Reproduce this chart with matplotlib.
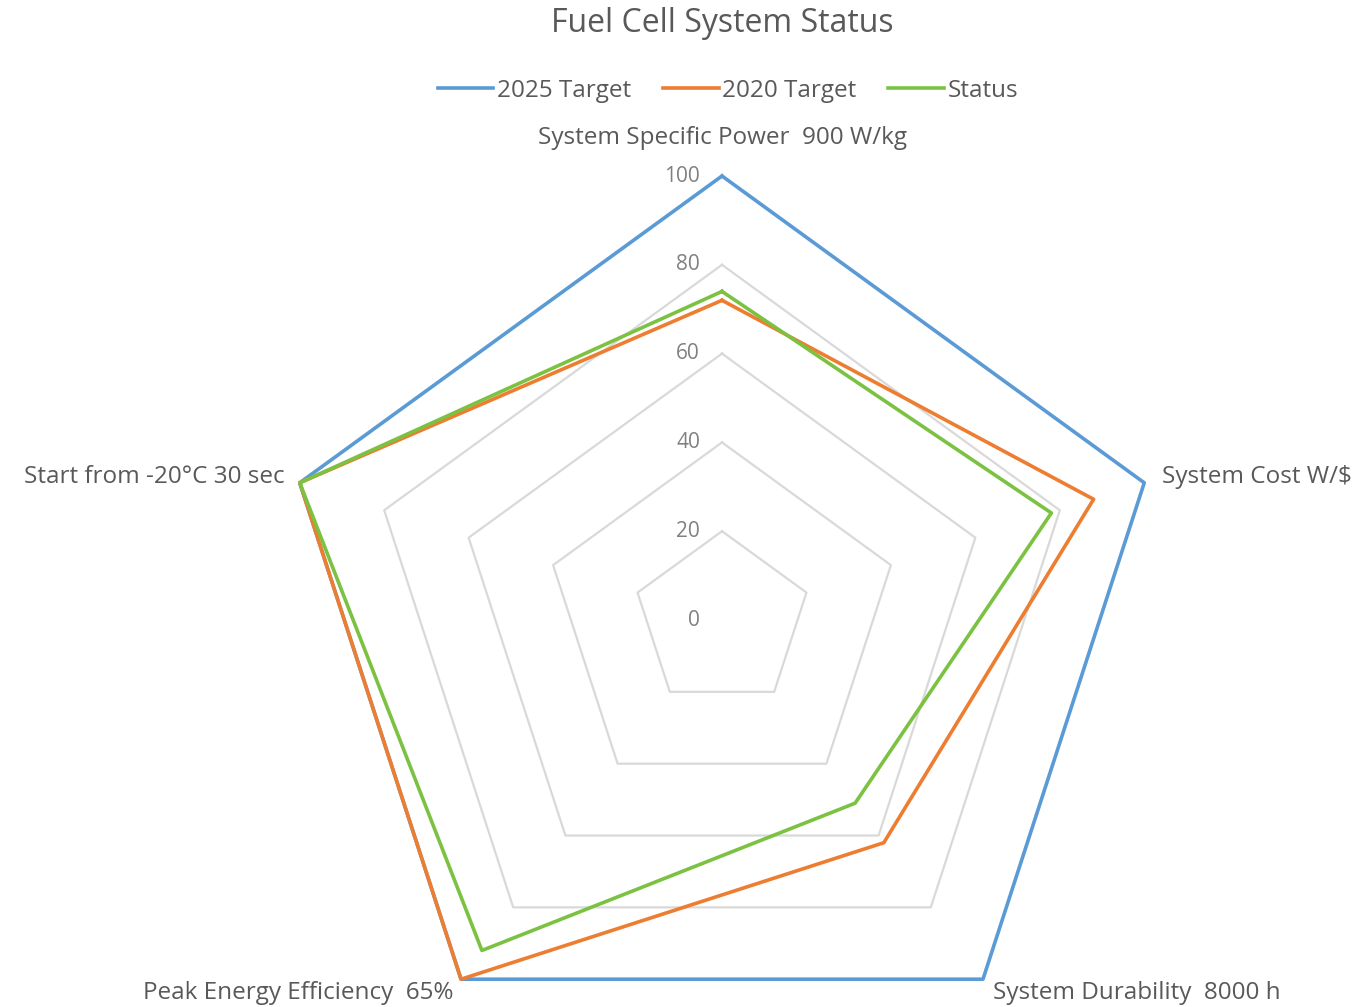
import numpy as np
import matplotlib
matplotlib.use('Agg')
from matplotlib import pyplot as plt

plt.rcParams['font.family'] = ['Open Sans', 'DejaVu Sans']

categories = ['System Specific Power  900 W/kg', 'System Cost W/$',
              'System Durability  8000 h', 'Peak Energy Efficiency  65%',
              'Start from -20\u00b0C 30 sec']
target_2025 = [100, 100, 100, 100, 100]
target_2020 = [72, 88, 62, 100, 100]
status = [74, 78, 51, 92, 100]
ring_values = [20, 40, 60, 80, 100]
tick_values = [0, 20, 40, 60, 80, 100]

series_names = ['2025 Target', '2020 Target', 'Status']
series_colors = ['#5B9BD5', '#ED7D31', '#7CC242']

fig = plt.figure(figsize=(13.66, 10.07), dpi=100)
# center at (722, 620) px, radius 444 px
ax = fig.add_axes([278/1366, (1007-620-444)/1007, 888/1366, 888/1007], projection='polar')
ax.set_theta_offset(np.pi/2)
ax.set_theta_direction(-1)
ax.set_ylim(0, 100)
ax.axis('off')

n = len(categories)
angles = np.linspace(0, 2*np.pi, n, endpoint=False)
closed = np.append(angles, angles[0])

for r in ring_values:
    ax.plot(closed, [r]*(n+1), color='#D9D9D9', lw=1.6, zorder=1, clip_on=False)

for name, vals, col in zip(series_names, [target_2025, target_2020, status], series_colors):
    ax.plot(closed, list(vals)+[vals[0]], color=col, lw=2.6, label=name, zorder=3, clip_on=False)

for t in tick_values:
    ax.annotate(str(t), xy=(0, t), xytext=(-22, 0), textcoords='offset pixels',
                ha='right', va='center', fontsize=15, color='#808080')

txt = dict(fontsize=17.5, color='#595959')
ax.annotate(categories[0], xy=(angles[0], 100), xytext=(0, 38), textcoords='offset pixels',
            ha='center', va='center', **txt)
ax.annotate(categories[1], xy=(angles[1], 100), xytext=(18, 6), textcoords='offset pixels',
            ha='left', va='center', **txt)
ax.annotate(categories[2], xy=(angles[2], 100), xytext=(10, -14), textcoords='offset pixels',
            ha='left', va='center', **txt)
ax.annotate(categories[3], xy=(angles[3], 100), xytext=(-8, -14), textcoords='offset pixels',
            ha='right', va='center', **txt)
ax.annotate(categories[4], xy=(angles[4], 100), xytext=(-15, 6), textcoords='offset pixels',
            ha='right', va='center', **txt)

fig.text(722/1366, 1 - 24/1007, 'Fuel Cell System Status', ha='center', va='center',
         fontsize=23, color='#595959')
leg = fig.legend(loc='center', bbox_to_anchor=(728/1366, 1 - 91/1007), ncol=3, frameon=False,
                 fontsize=17.5, handlelength=2.3, handletextpad=0.15, columnspacing=1.3)
for t in leg.get_texts():
    t.set_color('#595959')

fig.savefig('out.png', dpi=100)
